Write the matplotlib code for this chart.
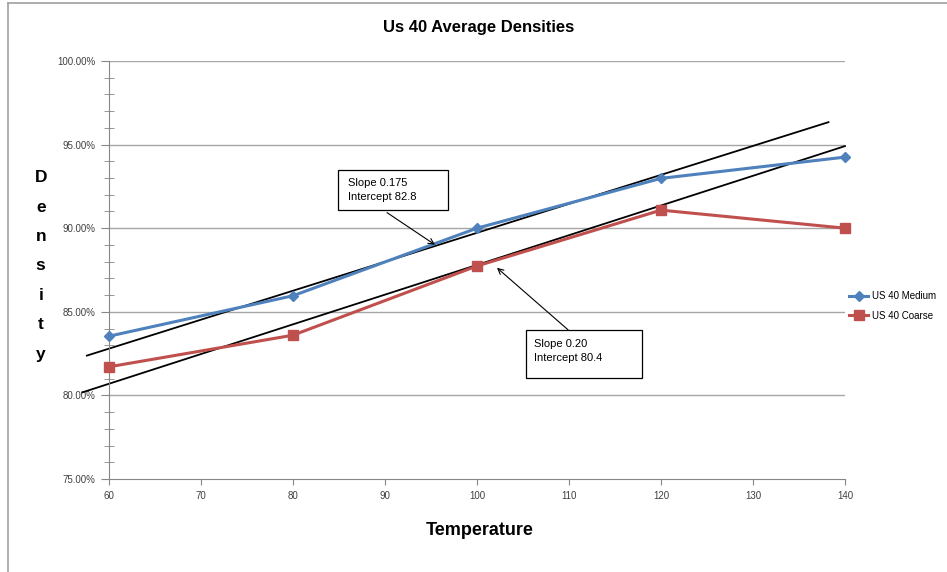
import matplotlib.pyplot as plt
from matplotlib.ticker import FuncFormatter, MultipleLocator
from matplotlib.lines import Line2D
from matplotlib.patches import Rectangle

# data
temps = [60, 80, 100, 120, 140]
medium = [83.54, 85.96, 90.0, 92.98, 94.25]
coarse = [81.71, 83.60, 87.74, 91.08, 90.0]

# hand drawn trend lines (end points)
trend1_x = [57.6, 138.2]
trend1_y = [82.38, 96.34]
trend2_x = [57.1, 140.0]
trend2_y = [80.18, 94.91]

note1 = "Slope 0.175\nIntercept 82.8"
note2 = "Slope 0.20\nIntercept 80.4"

plt.rcParams['font.family'] = ['Liberation Sans', 'DejaVu Sans']

fig = plt.figure(figsize=(9.47, 5.72), dpi=100)
ax = fig.add_axes([0.1151, 0.1626, 0.7772, 0.7308])

grid_col = '#a6a6a6'
for v in range(80, 101, 5):
    ax.axhline(v, color=grid_col, lw=1, zorder=0)

ax.plot(trend1_x, trend1_y, color='black', lw=1.3, zorder=2, clip_on=False)
ax.plot(trend2_x, trend2_y, color='black', lw=1.3, zorder=2, clip_on=False)

ax.plot(temps, medium, color='#4f81bd', lw=2.2, marker='D', ms=5,
        label='US 40 Medium', zorder=3, clip_on=False)
ax.plot(temps, coarse, color='#c0504d', lw=2.2, marker='s', ms=7,
        label='US 40 Coarse', zorder=3, clip_on=False)

ax.set_xlim(60, 140)
ax.set_ylim(75, 100)
ax.xaxis.set_major_locator(MultipleLocator(10))
ax.yaxis.set_major_locator(MultipleLocator(5))
ax.yaxis.set_minor_locator(MultipleLocator(1))
ax.yaxis.set_major_formatter(FuncFormatter(lambda v, p: f"{v:.2f}%"))

for s in ['top', 'right']:
    ax.spines[s].set_visible(False)
for s in ['left', 'bottom']:
    ax.spines[s].set_color('#868686')
ax.tick_params(axis='both', colors='#868686', labelcolor='#404040', labelsize=7)
ax.tick_params(axis='y', which='major', direction='out', length=6)
ax.tick_params(axis='y', which='minor', direction='inout', length=7, color='#868686')
ax.tick_params(axis='x', which='major', direction='out', length=4, pad=5)

# text boxes with open arrow heads
box_style = dict(fill=False, ec='black', lw=0.9, zorder=5, clip_on=False)
ax.add_patch(Rectangle((84.89, 91.11), 11.96, 2.39, fc='white', **box_style))
ax.text(85.98, 92.3, note1, fontsize=8, va='center', ha='left',
        linespacing=1.45, zorder=6)
ax.annotate('', xy=(95.43, 89.01), xytext=(90.22, 90.93),
            arrowprops=dict(arrowstyle='->', color='black', lw=0.8,
                            shrinkA=0, shrinkB=0), zorder=5)

ax.add_patch(Rectangle((105.33, 81.04), 12.6, 2.88, fc='white', **box_style))
ax.text(106.2, 82.65, note2, fontsize=8, va='center', ha='left',
        linespacing=1.45, zorder=6)
ax.annotate('', xy=(102.17, 87.63), xytext=(109.9, 83.92),
            arrowprops=dict(arrowstyle='->', color='black', lw=0.8,
                            shrinkA=0, shrinkB=0), zorder=5)

ax.legend(loc='center left', bbox_to_anchor=(1.0, 0.414), frameon=False,
          fontsize=7, handlelength=2.0, handletextpad=0.4,
          labelspacing=1.0, borderaxespad=0.2, borderpad=0.2)

fig.text(0.505, 0.952, "Us 40 Average Densities", ha='center', va='center',
         fontsize=12, fontweight='bold')
fig.text(0.507, 0.072, "Temperature", ha='center', va='center',
         fontsize=13, fontweight='bold')
fig.text(0.043, 0.535, "D\ne\nn\ns\ni\nt\ny", ha='center', va='center',
         fontsize=12.5, fontweight='bold', linespacing=2.2)

# chart border like the spreadsheet frame
fig.add_artist(Line2D([0.0085, 0.0085], [0.0, 0.995], color='#a0a0a0', lw=1.2,
                      transform=fig.transFigure))
fig.add_artist(Line2D([0.0085, 1.0], [0.995, 0.995], color='#a0a0a0', lw=1.2,
                      transform=fig.transFigure))

fig.savefig('out.png', dpi=100)
